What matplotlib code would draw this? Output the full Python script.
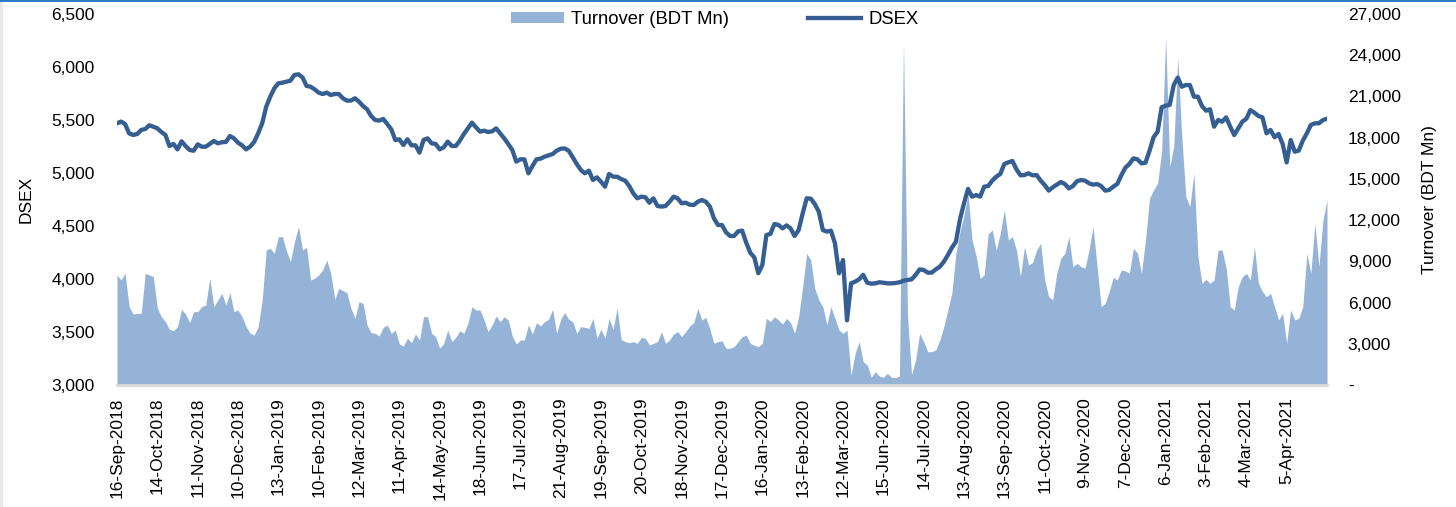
import matplotlib
matplotlib.use("Agg")
import matplotlib.pyplot as plt
from matplotlib.patches import Patch, Rectangle
from matplotlib.lines import Line2D
from matplotlib.ticker import FuncFormatter

plt.rcParams['font.family'] = ['Liberation Sans', 'DejaVu Sans']

# ---- data (one point per ~2 trading days) ----
tick_labels = ["16-Sep-2018", "14-Oct-2018", "11-Nov-2018", "10-Dec-2018", "13-Jan-2019",
               "10-Feb-2019", "12-Mar-2019", "11-Apr-2019", "14-May-2019", "18-Jun-2019",
               "17-Jul-2019", "21-Aug-2019", "19-Sep-2019", "20-Oct-2019", "18-Nov-2019",
               "17-Dec-2019", "16-Jan-2020", "13-Feb-2020", "12-Mar-2020", "15-Jun-2020",
               "14-Jul-2020", "13-Aug-2020", "13-Sep-2020", "11-Oct-2020", "9-Nov-2020",
               "7-Dec-2020", "6-Jan-2021", "3-Feb-2021", "4-Mar-2021", "5-Apr-2021"]
tick_step = 10

dsex = [5469, 5485, 5462, 5374, 5359, 5368, 5406, 5415, 5450, 5437,
        5421, 5387, 5359, 5255, 5274, 5223, 5299, 5255, 5217, 5210,
        5270, 5248, 5248, 5274, 5302, 5280, 5290, 5293, 5349, 5327,
        5286, 5261, 5223, 5248, 5293, 5374, 5469, 5626, 5720, 5799,
        5846, 5852, 5862, 5871, 5925, 5931, 5902, 5821, 5814, 5789,
        5758, 5745, 5758, 5736, 5745, 5745, 5705, 5683, 5683, 5705,
        5673, 5632, 5601, 5538, 5500, 5494, 5510, 5462, 5412, 5311,
        5318, 5264, 5318, 5261, 5261, 5192, 5311, 5327, 5280, 5274,
        5223, 5242, 5296, 5255, 5255, 5305, 5368, 5421, 5475, 5431,
        5390, 5399, 5387, 5393, 5421, 5374, 5327, 5274, 5217, 5107,
        5129, 5129, 4997, 5066, 5129, 5135, 5154, 5167, 5179, 5210,
        5229, 5232, 5210, 5148, 5085, 5028, 4997, 5022, 4934, 4959,
        4918, 4871, 4991, 4965, 4965, 4943, 4928, 4877, 4808, 4761,
        4777, 4771, 4720, 4761, 4689, 4683, 4689, 4729, 4777, 4761,
        4714, 4720, 4701, 4698, 4729, 4745, 4729, 4683, 4572, 4509,
        4509, 4440, 4406, 4406, 4450, 4456, 4343, 4248, 4205, 4054,
        4132, 4415, 4425, 4519, 4510, 4478, 4506, 4478, 4406, 4462,
        4619, 4761, 4758, 4708, 4635, 4462, 4447, 4456, 4337, 4054,
        4179, 3610, 3959, 3975, 3997, 4040, 3965, 3956, 3959, 3969,
        3965, 3959, 3959, 3962, 3969, 3984, 3990, 3997, 4038, 4091,
        4085, 4060, 4060, 4091, 4116, 4163, 4226, 4296, 4352, 4563,
        4714, 4850, 4777, 4792, 4777, 4871, 4877, 4928, 4965, 4991,
        5085, 5101, 5113, 5035, 4978, 4981, 4997, 4978, 4981, 4928,
        4887, 4834, 4865, 4890, 4915, 4896, 4855, 4877, 4922, 4934,
        4928, 4903, 4890, 4896, 4877, 4834, 4840, 4871, 4896, 4978,
        5050, 5085, 5138, 5129, 5091, 5097, 5210, 5337, 5390, 5620,
        5635, 5642, 5830, 5900, 5814, 5830, 5830, 5720, 5720, 5632,
        5588, 5601, 5437, 5500, 5484, 5525, 5437, 5358, 5421, 5484,
        5512, 5594, 5569, 5538, 5525, 5374, 5406, 5337, 5368, 5274,
        5100, 5311, 5201, 5211, 5305, 5374, 5453, 5469, 5469, 5500,
        5512]

turnover = [8006, 7642, 8128, 5701, 5167, 5215, 5215, 8128, 8006, 7885,
            5580, 4973, 4610, 4053, 3955, 4246, 5507, 5167, 4537, 5337,
            5337, 5701, 5822, 7763, 5701, 6186, 6671, 5822, 6720, 5337,
            5459, 4973, 4246, 3760, 3639, 4246, 6186, 9825, 9946, 9582,
            10796, 10796, 9776, 8977, 10432, 11524, 9825, 10019, 7642, 7763,
            8006, 8370, 9098, 8127, 6235, 7036, 6866, 6720, 5580, 4852,
            6065, 5944, 4367, 3809, 3760, 3566, 4197, 4367, 3760, 4003,
            2984, 2838, 3397, 3081, 3712, 3275, 4973, 4973, 3760, 3518,
            2669, 3032, 4003, 3154, 3469, 3955, 3760, 4488, 5701, 5459,
            5459, 4731, 3882, 4367, 5022, 4610, 4973, 4731, 3566, 2984,
            3275, 3275, 4367, 3712, 4537, 4294, 4610, 4779, 5507, 3760,
            4779, 5265, 4779, 4610, 3760, 4246, 4197, 4124, 4852, 3397,
            4051, 3397, 4852, 4051, 5600, 3300, 3154, 3081, 3154, 3032,
            3470, 3397, 2911, 3032, 3154, 3882, 3032, 3275, 3712, 3882,
            3518, 3882, 4294, 4537, 5580, 4731, 4925, 4051, 3032, 3154,
            3227, 2669, 2669, 2790, 3154, 3518, 3639, 3032, 2887, 2790,
            3032, 4852, 4610, 4973, 4731, 4440, 4852, 4537, 3760, 4973,
            7157, 9582, 9098, 7036, 6186, 5701, 4367, 5701, 4852, 4003,
            3760, 4003, 700, 2305, 3154, 1698, 1456, 558, 970, 655,
            558, 849, 558, 534, 655, 25000, 5000, 776, 1820, 3760,
            3154, 2426, 2426, 2547, 3275, 4246, 5459, 6720, 9582, 11160,
            12372, 13900, 10553, 9389, 7763, 8006, 11000, 11281, 9825, 11038,
            12737, 10553, 10796, 9825, 7885, 10068, 8734, 8903, 9825, 10310,
            7642, 6429, 6186, 8127, 9219, 9582, 10796, 8613, 8855, 8613,
            8491, 9825, 11524, 8613, 5701, 5944, 6793, 7836, 7642, 8370,
            8310, 8127, 9946, 9582, 8127, 10553, 13585, 14192, 14677, 17000,
            25300, 15890, 17346, 23800, 18074, 13707, 12979, 15405, 9340, 7400,
            7691, 7400, 7642, 9825, 9825, 8491, 5701, 5459, 7157, 7885,
            8127, 7642, 10068, 7400, 6793, 6429, 6671, 5701, 4731, 5215,
            3032, 5459, 4731, 4852, 5701, 9582, 8127, 11766, 8613, 12009,
            13464]

# ---- styling ----
LINE_C = '#355E92'
AREA_C = '#95B3D7'
FS = 12.5
LEG_FS = 13.3
W, H = 1456, 507

fig = plt.figure(figsize=(W / 100, H / 100), dpi=100)
ax = fig.add_axes([117 / W, 1 - 385 / H, 1210 / W, 371 / H])
ax2 = ax.twinx()

x = list(range(len(dsex)))
ax2.fill_between(x, turnover, 0, color=AREA_C, lw=0)
ax.plot(x, dsex, color=LINE_C, lw=3.1, solid_joinstyle='round', solid_capstyle='round')

ax.set_zorder(ax2.get_zorder() + 1)
ax.patch.set_visible(False)

ax.set_xlim(0, len(dsex) - 1)
ax.set_ylim(3000, 6500)
ax2.set_ylim(0, 27000)
ax.set_yticks(range(3000, 6501, 500))
ax2.set_yticks(range(0, 27001, 3000))
ax.yaxis.set_major_formatter(FuncFormatter(lambda v, p: f"{int(v):,}"))
ax2.yaxis.set_major_formatter(FuncFormatter(lambda v, p: "-" if v == 0 else f"{int(v):,}"))

ax.set_xticks([i * tick_step for i in range(len(tick_labels))])
ax.set_xticklabels(tick_labels, rotation=90, fontsize=FS)

ax.tick_params(axis='y', length=0, pad=16, labelsize=FS)
ax2.tick_params(axis='y', length=0, pad=15, labelsize=FS)
ax.tick_params(axis='x', length=0, pad=9)

for a in (ax, ax2):
    for s in ('top', 'left', 'right', 'bottom'):
        a.spines[s].set_visible(False)
ax2.spines['bottom'].set_visible(True)
ax2.spines['bottom'].set_color('#d9d9d9')
ax2.spines['bottom'].set_linewidth(2)

ax.set_ylabel("DSEX", fontsize=FS)
ax.yaxis.set_label_coords(-0.069, 0.5)
ax2.set_ylabel("Turnover (BDT Mn)", fontsize=FS, rotation=90)
ax2.yaxis.set_label_coords(1.0785, 0.5)

handles = [Patch(facecolor=AREA_C, edgecolor='none'),
           Line2D([0], [0], color=LINE_C, lw=3.1)]
ax.legend(handles, ["Turnover (BDT Mn)", "DSEX"], loc='center',
          bbox_to_anchor=(0.494, 0.986), ncol=2, frameon=False, fontsize=LEG_FS,
          handlelength=2.85, handleheight=0.55, handletextpad=0.4, columnspacing=4.3)

# screenshot frame
fig.add_artist(Rectangle((0, 1 - 2 / H), 1, 2 / H, transform=fig.transFigure,
                         facecolor='#2F7BC4', edgecolor='none'))
fig.add_artist(Rectangle((0, 0), 3 / W, 1 - 2 / H, transform=fig.transFigure,
                         facecolor='#E8E8E8', edgecolor='none'))

fig.savefig("out.png", dpi=100)
